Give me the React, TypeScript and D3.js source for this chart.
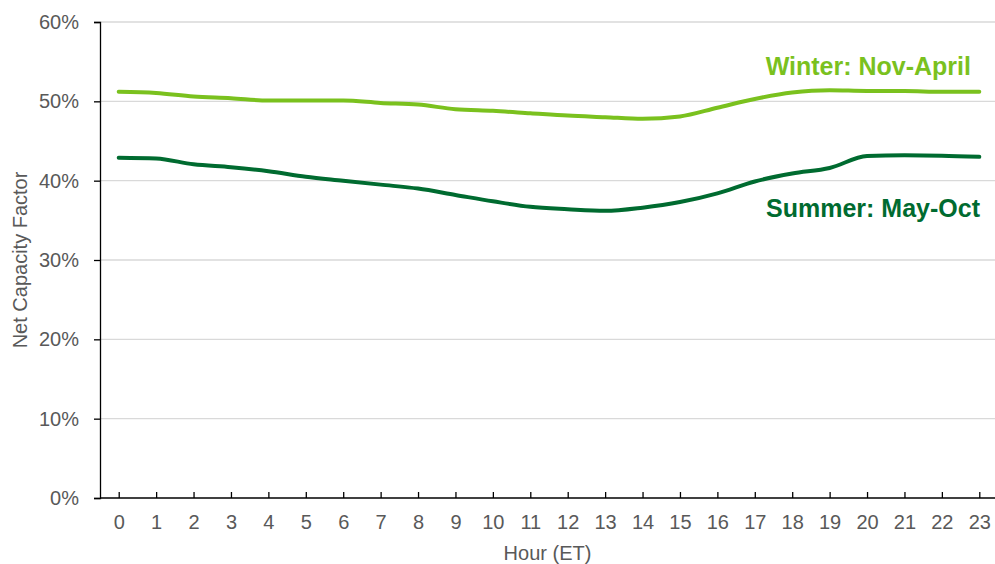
import React, { useRef, useEffect } from 'react';
import * as d3 from 'd3';

const hours = d3.range(0, 24);
const winter = [51.2, 51.05, 50.6, 50.4, 50.1, 50.1, 50.1, 49.8, 49.6, 49.0, 48.8, 48.5, 48.2, 48.0, 47.8, 48.1, 49.2, 50.3, 51.1, 51.4, 51.3, 51.3, 51.2, 51.2];
const summer = [42.9, 42.8, 42.06, 41.7, 41.2, 40.5, 40.0, 39.5, 39.0, 38.2, 37.4, 36.7, 36.4, 36.2, 36.6, 37.3, 38.4, 39.9, 40.9, 41.6, 43.1, 43.2, 43.15, 43.0];
const yTicks = [0, 10, 20, 30, 40, 50, 60];

const WINTER_COLOR = '#7AC11E';
const SUMMER_COLOR = '#006B30';
const TEXT_COLOR = '#595959';
const FONT = '"Liberation Sans", Arial, sans-serif';

const App = () => {
  const svgRef = useRef<SVGSVGElement>(null);

  useEffect(() => {
    const svg = d3.select(svgRef.current);
    svg.selectAll('*').remove();

    const left = 100, right = 995, top = 22, bottom = 498;

    const x = d3.scalePoint<number>().domain(hours).range([left, 998]).padding(0.5);
    const y = d3.scaleLinear().domain([0, 60]).range([bottom, top]);

    // gridlines
    svg.append('g')
      .selectAll('line')
      .data(yTicks.filter(t => t > 0))
      .enter().append('line')
      .attr('x1', left).attr('x2', right)
      .attr('y1', d => y(d)).attr('y2', d => y(d))
      .attr('stroke', '#d9d9d9')
      .attr('stroke-width', 1.3);

    // y axis
    const yAxis = svg.append('g')
      .attr('transform', `translate(${left},0)`)
      .call(d3.axisLeft(y).tickValues(yTicks).tickSize(6).tickPadding(15).tickFormat(d => `${d}%`));
    yAxis.select('.domain').attr('stroke', '#000').attr('stroke-width', 1.3);
    yAxis.selectAll('.tick line').attr('stroke', '#000').attr('stroke-width', 1.3);
    yAxis.selectAll('.tick text')
      .attr('fill', TEXT_COLOR)
      .style('font-family', FONT)
      .style('font-size', '20px');

    // x axis
    const xAxis = svg.append('g')
      .attr('transform', `translate(0,${bottom})`)
      .call(d3.axisBottom(x).tickSize(-6).tickSizeOuter(0).tickPadding(17));
    xAxis.select('.domain').attr('d', `M${left},0H${right}`).attr('stroke', '#000').attr('stroke-width', 1.3);
    xAxis.selectAll('.tick line').attr('stroke', '#000').attr('stroke-width', 1.3);
    xAxis.selectAll('.tick text')
      .attr('fill', TEXT_COLOR)
      .style('font-family', FONT)
      .style('font-size', '20px');

    // axis titles
    svg.append('text')
      .attr('x', (left + right) / 2)
      .attr('y', 560)
      .attr('text-anchor', 'middle')
      .attr('fill', TEXT_COLOR)
      .style('font-family', FONT)
      .style('font-size', '20px')
      .text('Hour (ET)');

    svg.append('text')
      .attr('transform', `translate(27,260) rotate(-90)`)
      .attr('text-anchor', 'middle')
      .attr('fill', TEXT_COLOR)
      .style('font-family', FONT)
      .style('font-size', '20px')
      .text('Net Capacity Factor');

    const line = d3.line<number>()
      .x((_, i) => x(hours[i]) as number)
      .y(d => y(d))
      .curve(d3.curveMonotoneX);

    [[winter, WINTER_COLOR], [summer, SUMMER_COLOR]].forEach(([vals, c]) => {
      svg.append('path')
        .datum(vals as number[])
        .attr('fill', 'none')
        .attr('stroke', c as string)
        .attr('stroke-width', 4)
        .attr('stroke-linejoin', 'round')
        .attr('stroke-linecap', 'round')
        .attr('d', line);
    });

    // series labels
    svg.append('text')
      .attr('x', 971).attr('y', 75)
      .attr('text-anchor', 'end')
      .attr('fill', WINTER_COLOR)
      .style('font-family', FONT)
      .style('font-size', '25px')
      .style('font-weight', 'bold')
      .text('Winter: Nov-April');

    svg.append('text')
      .attr('x', 980).attr('y', 217)
      .attr('text-anchor', 'end')
      .attr('fill', SUMMER_COLOR)
      .style('font-family', FONT)
      .style('font-size', '25px')
      .style('font-weight', 'bold')
      .text('Summer: May-Oct');
  }, []);

  return (
    <div style={{ position: 'fixed', left: 0, top: 0, width: 995, height: 564, background: '#fff' }}>
      <svg ref={svgRef} width={995} height={564} />
    </div>
  );
};

export default App;
